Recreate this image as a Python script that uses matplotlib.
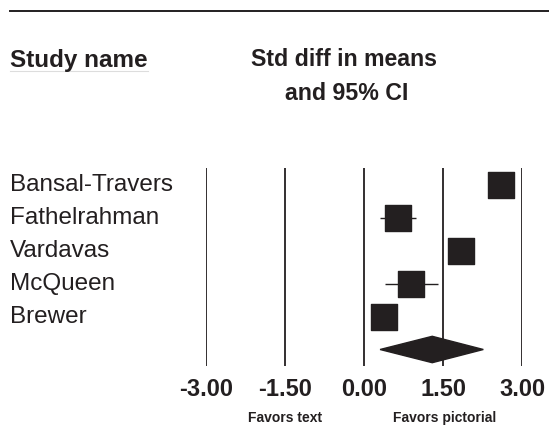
import numpy as np
import matplotlib
matplotlib.use("Agg")
import matplotlib.pyplot as plt
from matplotlib.patches import Polygon

plt.rcParams['font.family'] = ['Liberation Sans', 'DejaVu Sans']

studies = ["Bansal-Travers", "Fathelrahman", "Vardavas", "McQueen", "Brewer"]
effect = [2.60, 0.64, 1.84, 0.89, 0.38]
ci_low = [2.45, 0.30, 1.70, 0.39, 0.20]
ci_high = [2.75, 0.98, 1.98, 1.39, 0.56]
summary = (0.30, 1.29, 2.26)  # lower, estimate, upper
ticks = [-3.0, -1.5, 0.0, 1.5, 3.0]
tick_labels = ["-3.00", "-1.50", "0.00", "1.50", "3.00"]

W, H = 549, 430
ink = "#231f20"
fig = plt.figure(figsize=(W / 100, H / 100), dpi=100)


def fx(px):
    return px / W


def fy(py):
    return 1 - py / H


# forest axes: x from -3 (px 206.3) to 3 (px 522.3), rows 33 px apart
ax = fig.add_axes([fx(206.3), fy(366), 316 / W, 198 / H])
ax.set_xlim(-3, 3)
ax.set_ylim(len(studies) + 0.5, -0.5)
for s in ax.spines.values():
    s.set_visible(False)
ax.set_yticks([])
ax.set_xticks(ticks)
ax.set_xticklabels(tick_labels, fontsize=17, fontweight="bold", color=ink)
ax.tick_params(axis="x", length=0, pad=9)

for t in ticks:
    ax.axvline(t, color=ink, lw=1.3, zorder=1)

ys = np.arange(len(studies))
ax.hlines(ys, ci_low, ci_high, color=ink, lw=1.0, zorder=2)
ax.scatter(effect, ys, marker="s", s=345, color=ink, zorder=3, clip_on=False)

lo, est, hi = summary
ys_sum = len(studies)
dia = Polygon([(lo, ys_sum), (est, ys_sum - 0.4), (hi, ys_sum), (est, ys_sum + 0.4)],
              closed=True, color=ink, zorder=3, clip_on=False)
ax.add_patch(dia)

# left column and headers
for i, name in enumerate(studies):
    fig.text(fx(10), fy(184.7 + 33 * i), name, fontsize=17.5, color=ink, va="center", ha="left")

fig.text(fx(10), fy(60), "Study name", fontsize=17.5, fontweight="bold", color=ink, va="center", ha="left")
fig.add_artist(plt.Line2D([fx(10), fx(148)], [fy(71), fy(71)], color="#dddddd", lw=0.8))
fig.text(fx(344), fy(60), "Std diff in means", fontsize=16.7, fontweight="bold", color=ink, va="center", ha="center")
fig.text(fx(347), fy(93), "and 95% CI", fontsize=16.7, fontweight="bold", color=ink, va="center", ha="center")
fig.add_artist(plt.Line2D([fx(10), fx(549)], [fy(11), fy(11)], color=ink, lw=1.4))

fig.text(fx(285), fy(418), "Favors text", fontsize=10, fontweight="bold", color=ink, va="center", ha="center")
fig.text(fx(445), fy(418), "Favors pictorial", fontsize=10, fontweight="bold", color=ink, va="center", ha="center")

fig.savefig("out.png", dpi=100)
